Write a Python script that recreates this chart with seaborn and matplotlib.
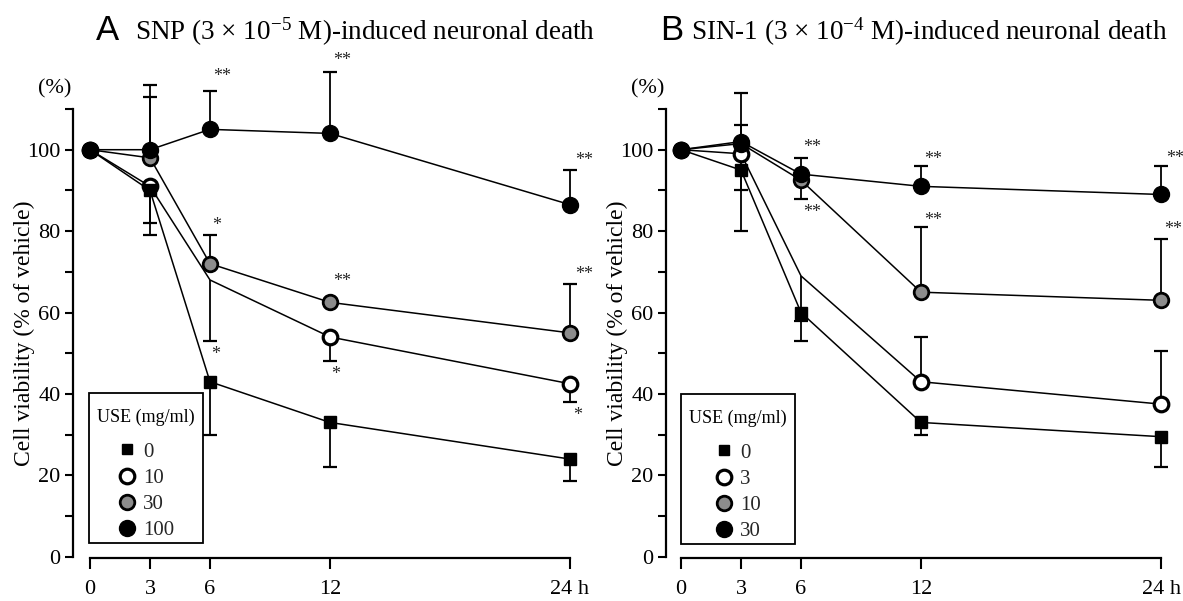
import numpy as np
import pandas as pd
import matplotlib
matplotlib.use("Agg")
import matplotlib.pyplot as plt
from matplotlib.lines import Line2D
from matplotlib.patches import Rectangle
import seaborn as sns

sns.set_theme(style="white")
plt.rcParams["font.family"] = ["Liberation Serif", "DejaVu Serif"]
plt.rcParams["mathtext.fontset"] = "custom"
plt.rcParams["mathtext.rm"] = "Liberation Serif"
plt.rcParams["mathtext.it"] = "Liberation Serif:italic"

# ---------------- data ----------------
times = [0, 3, 6, 12, 24]
time_labels = ["0", "3", "6", "12", "24 h"]

# Panel A: SNP
A_doses = ["0", "10", "30", "100"]
A_0 = [100, 90, 43, 33, 24]
A_10 = [100, 91, 68, 54, 42.5]
A_30 = [100, 98, 72, 62.5, 55]
A_100 = [100, 100, 105, 104, 86.5]
A_0_lo = [0, 11, 13, 11, 5.5]
A_0_hi = [0, 0, 0, 0, 0]
A_10_lo = [0, 9, 15, 6, 4.5]
A_10_hi = [0, 0, 0, 0, 0]
A_30_lo = [0, 0, 0, 0, 0]
A_30_hi = [0, 15, 7, 0, 12]
A_100_lo = [0, 0, 0, 0, 0]
A_100_hi = [0, 16, 9.5, 15, 8.5]
A_star_t = [6.6, 6.35, 6.3, 12.6, 12.6, 12.3, 24.7, 24.7, 24.4]
A_star_y = [118, 81.5, 49.6, 122, 67.6, 44.8, 97.3, 69.3, 34.8]
A_star_txt = ["**", "*", "*", "**", "**", "*", "**", "**", "*"]

# Panel B: SIN-1
B_doses = ["0", "3", "10", "30"]
B_0 = [100, 95, 60, 33, 29.5]
B_3 = [100, 99, 69, 43, 37.5]
B_10 = [100, 101.5, 92.5, 65, 63]
B_30 = [100, 102, 94, 91, 89]
B_0_lo = [0, 15, 7, 3, 7.5]
B_0_hi = [0, 0, 0, 0, 0]
B_3_lo = [0, 9, 11, 0, 0]
B_3_hi = [0, 0, 0, 11, 13]
B_10_lo = [0, 0, 4.5, 0, 0]
B_10_hi = [0, 4.5, 0, 16, 15]
B_30_lo = [0, 0, 0, 0, 0]
B_30_hi = [0, 12, 4, 5, 7]
B_star_t = [6.55, 6.55, 12.6, 12.6, 24.7, 24.6]
B_star_y = [100.5, 84.5, 97.7, 82.7, 97.8, 80.5]
B_star_txt = ["**", "**", "**", "**", "**", "**"]

legend_title = "USE (mg/ml)"

# marker styles: square, open circle, gray circle, black circle
STYLES = [
    dict(marker="s", ms=8.5, mfc="black", mew=1.0, z=4),
    dict(marker="o", ms=10.5, mfc="white", mew=2.3, z=3),
    dict(marker="o", ms=10.5, mfc="#8c8c8c", mew=2.0, z=5),
    dict(marker="o", ms=11.5, mfc="black", mew=1.0, z=6),
]

W, H = 1183, 601
fig = plt.figure(figsize=(W / 100, H / 100), dpi=100)
fig.patch.set_facecolor("white")


def draw_panel(ax, series, los, his, markevery_list, stars, xmin):
    t = np.asarray(times, float)
    for y, lo, hi in zip(series, los, his):
        y = np.asarray(y, float)
        lo = np.asarray(lo, float)
        hi = np.asarray(hi, float)
        mlo = lo > 0
        mhi = hi > 0
        if mlo.any():
            ax.errorbar(t[mlo], y[mlo] - lo[mlo] / 2, yerr=lo[mlo] / 2, fmt="none",
                        ecolor="black", elinewidth=1.3, capsize=0, zorder=2, clip_on=False)
            ax.plot(t[mlo], y[mlo] - lo[mlo], ls="none", marker="_", ms=10, mew=1.6,
                    color="black", zorder=2, clip_on=False)
        if mhi.any():
            ax.errorbar(t[mhi], y[mhi] + hi[mhi] / 2, yerr=hi[mhi] / 2, fmt="none",
                        ecolor="black", elinewidth=1.3, capsize=0, zorder=2, clip_on=False)
            ax.plot(t[mhi], y[mhi] + hi[mhi], ls="none", marker="_", ms=10, mew=1.6,
                    color="black", zorder=2, clip_on=False)
    for i, y in enumerate(series):
        st = STYLES[i]
        sns.lineplot(x=times, y=y, ax=ax, color="black", lw=1.1, legend=False,
                     marker=st["marker"], ms=st["ms"], mfc=st["mfc"], mec="black",
                     mew=st["mew"], markevery=markevery_list[i], clip_on=False,
                     zorder=st["z"], errorbar=None)
    for (tt, yv, s) in zip(*stars):
        ax.text(tt, yv, s, ha="center", va="center", fontsize=13, zorder=10)

    ax.set_xlim(xmin, 24)
    ax.set_ylim(-0.3, 110)
    for side in ["top", "right"]:
        ax.spines[side].set_visible(False)
    for side in ["left", "bottom"]:
        ax.spines[side].set_color("black")
        ax.spines[side].set_linewidth(1.6)
    ax.spines["left"].set_bounds(0, 110)
    ax.spines["bottom"].set_bounds(0, 24)
    ax.set_xticks(times)
    ax.set_xticklabels(time_labels, fontsize=16)
    ax.set_yticks([0, 20, 40, 60, 80, 100])
    ax.set_yticklabels(["0", "20", "40", "60", "80", "100"], fontsize=16)
    ax.set_yticks([10, 30, 50, 70, 90, 110], minor=True)
    ax.tick_params(axis="y", which="both", direction="out", length=6, width=1.5,
                   color="black", left=True, pad=3, labelcolor="black")
    ax.tick_params(axis="x", which="both", direction="out", length=8, width=1.5,
                   color="black", bottom=True, pad=8, labelcolor="black")
    ax.set_ylabel("Cell viability (% of vehicle)", fontsize=17, color="black")
    ax.yaxis.set_label_coords(-38 / 497, 0.5)
    ax.set_xlabel("")
    ax.grid(False)
    ax.set_facecolor("none")
    ax.text(-0.004, 1.045, "(%)", transform=ax.transAxes, ha="right", va="center",
            fontsize=16, color="black")


def add_legend(doses, left_px, top_px, right_px, bottom_px):
    fig.patches.append(Rectangle((left_px / W, 1 - bottom_px / H),
                                 (right_px - left_px) / W, (bottom_px - top_px) / H,
                                 transform=fig.transFigure, facecolor="white",
                                 edgecolor="black", linewidth=1.3, zorder=19))
    cx = (left_px + right_px) / 2
    fig.text(cx / W, 1 - (top_px + 24) / H, legend_title, ha="center", va="center",
             fontsize=13, color="black", zorder=21)
    handles = []
    for i, d in enumerate(doses):
        st = STYLES[i]
        handles.append(Line2D([], [], ls="none", marker=st["marker"],
                              ms=st["ms"] - (1 if st["marker"] == "s" else 0),
                              mfc=st["mfc"], mec="black", mew=st["mew"]))
    leg = fig.legend(handles, doses, loc="upper center",
                     bbox_to_anchor=(cx / W, 1 - (top_px + 49) / H),
                     bbox_transform=fig.transFigure, borderaxespad=0, borderpad=0,
                     frameon=False, fontsize=15,
                     handlelength=0.9, handletextpad=0.3, labelspacing=0.32)
    leg.set_zorder(22)


axA = fig.add_axes([73 / W, (H - 558) / H, 497 / W, 449 / H])
draw_panel(axA, [A_0, A_10, A_30, A_100],
           [A_0_lo, A_10_lo, A_30_lo, A_100_lo],
           [A_0_hi, A_10_hi, A_30_hi, A_100_hi],
           [None, [0, 1, 3, 4], None, None],
           (A_star_t, A_star_y, A_star_txt), -0.85)
add_legend(A_doses, 89, 393, 203, 543)

axB = fig.add_axes([666 / W, (H - 558) / H, 495 / W, 449 / H])
draw_panel(axB, [B_0, B_3, B_10, B_30],
           [B_0_lo, B_3_lo, B_10_lo, B_30_lo],
           [B_0_hi, B_3_hi, B_10_hi, B_30_hi],
           [None, [0, 1, 3, 4], None, None],
           (B_star_t, B_star_y, B_star_txt), -0.75)
add_legend(B_doses, 681, 394, 795, 544)

# titles
ty = 1 - 40 / H
fig.text(96 / W, ty, "A", family=["Liberation Sans", "DejaVu Sans"], fontsize=25,
         va="baseline", ha="left", color="black")
fig.text(135 / W, ty, r"SNP (3 × 10$^{-5}$ M)-induced neuronal death", fontsize=19.5,
         va="baseline", ha="left", color="black")
fig.text(660 / W, ty, "B", family=["Liberation Sans", "DejaVu Sans"], fontsize=25,
         va="baseline", ha="left", color="black")
fig.text(691 / W, ty, r"SIN-1 (3 × 10$^{-4}$ M)-induced neuronal death", fontsize=19.5,
         va="baseline", ha="left", color="black")

fig.savefig("out.png", dpi=100, facecolor="white")
